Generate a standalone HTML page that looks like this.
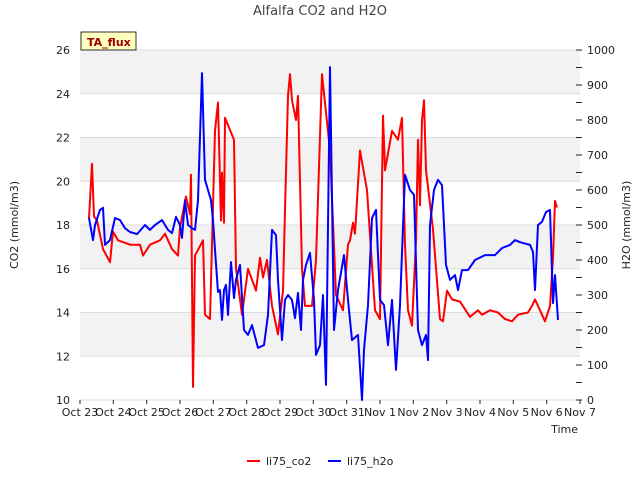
<!DOCTYPE html>
<html><head><meta charset="utf-8">
<style>
body{margin:0;background:#fff;font-family:"Liberation Sans","DejaVu Sans",sans-serif;}
svg text{font-family:"DejaVu Sans","Liberation Sans",sans-serif;}
</style></head>
<body>
<svg id="chart" width="640" height="480" viewBox="0 0 640 480">
<text x="320" y="15" text-anchor="middle" font-size="13" fill="#444">Alfalfa CO2 and H2O</text>
<g id="grid"></g>
<g id="series"></g>
<g id="axes"></g>
<g>
<rect x="81" y="32" width="55" height="18" fill="#ffffc0" stroke="#000" stroke-width="0.8"/>
<text x="87" y="46" font-size="11" font-weight="bold" fill="#a00000">TA_flux</text>
</g>
<text x="18" y="225" transform="rotate(-90 18 225)" text-anchor="middle" font-size="11" fill="#222">CO2 (mmol/m3)</text>
<text x="630" y="225" transform="rotate(-90 630 225)" text-anchor="middle" font-size="11" fill="#222">H2O (mmol/m3)</text>
<text x="578" y="433" text-anchor="end" font-size="11" fill="#222">Time</text>
<g>
<g><line x1="247" y1="461" x2="260" y2="461" stroke="#f00" stroke-width="2"/><text x="266" y="465" font-size="11" fill="#222">li75_co2</text></g>
<g><line x1="328" y1="461" x2="341" y2="461" stroke="#00f" stroke-width="2"/><text x="347" y="465" font-size="11" fill="#222">li75_h2o</text></g>
</g>
</svg>
<script>
const xTickLabels=["Oct 23","Oct 24","Oct 25","Oct 26","Oct 27","Oct 28","Oct 29","Oct 30","Oct 31","Nov 1","Nov 2","Nov 3","Nov 4","Nov 5","Nov 6","Nov 7"];
const yLeftTicks=[10,12,14,16,18,20,22,24,26];
const yRightTicks=[0,100,200,300,400,500,600,700,800,900,1000];
const co2Days=[0.27,0.36,0.42,0.51,0.69,0.9,0.99,1.14,1.5,1.8,1.89,2.1,2.4,2.55,2.76,2.94,3.0,3.18,3.3,3.33,3.39,3.45,3.69,3.75,3.9,4.05,4.14,4.23,4.26,4.32,4.35,4.62,4.68,4.86,5.04,5.28,5.4,5.49,5.61,5.76,5.94,6.09,6.15,6.24,6.3,6.36,6.48,6.54,6.66,6.75,6.96,7.08,7.26,7.5,7.68,7.89,8.04,8.1,8.19,8.25,8.4,8.61,8.85,9.0,9.09,9.15,9.36,9.54,9.66,9.75,9.84,9.96,10.08,10.14,10.2,10.26,10.32,10.38,10.59,10.8,10.89,11.01,11.16,11.4,11.7,11.94,12.06,12.3,12.54,12.75,12.96,13.14,13.44,13.56,13.65,13.8,13.95,14.1,14.19,14.25,14.31];
const co2Values=[18.3,20.8,18.4,18.2,16.9,16.3,17.7,17.3,17.1,17.1,16.6,17.1,17.3,17.6,16.9,16.6,17.9,19.3,18.5,20.3,10.6,16.6,17.3,13.9,13.7,22.3,23.6,18.2,20.4,18.1,22.9,21.9,16.0,13.9,16.0,15.0,16.5,15.6,16.4,14.3,13.0,15.0,18.7,23.9,24.9,23.7,22.8,23.9,16.0,14.3,14.3,16.4,24.9,21.4,14.8,14.1,17.1,17.3,18.1,17.6,21.4,19.6,14.1,13.7,23.0,20.5,22.3,21.9,22.9,17.1,14.1,13.4,17.3,21.9,18.9,22.8,23.7,20.5,17.8,13.7,13.6,15.0,14.6,14.5,13.8,14.1,13.9,14.1,14.0,13.7,13.6,13.9,14.0,14.3,14.6,14.1,13.6,14.3,16.5,19.1,18.8];
const h2oDays=[0.27,0.39,0.45,0.6,0.69,0.75,0.9,1.05,1.2,1.35,1.5,1.71,1.95,2.1,2.25,2.46,2.64,2.76,2.88,3.0,3.06,3.15,3.24,3.36,3.45,3.54,3.66,3.75,3.84,3.93,3.99,4.05,4.14,4.2,4.26,4.32,4.38,4.44,4.53,4.62,4.68,4.8,4.92,5.04,5.16,5.34,5.52,5.64,5.76,5.88,5.94,6.06,6.15,6.24,6.36,6.45,6.54,6.63,6.69,6.78,6.9,7.02,7.08,7.2,7.29,7.38,7.5,7.62,7.74,7.92,8.04,8.16,8.34,8.46,8.52,8.64,8.76,8.88,9.0,9.12,9.24,9.36,9.48,9.6,9.75,9.9,10.02,10.14,10.26,10.38,10.44,10.5,10.62,10.74,10.86,10.98,11.1,11.25,11.34,11.46,11.64,11.85,12.15,12.45,12.66,12.9,13.05,13.2,13.5,13.59,13.65,13.74,13.86,13.98,14.1,14.19,14.25,14.34];
const h2oValues=[520,457,500,543,549,443,457,520,514,491,480,474,500,486,500,514,486,477,523,500,463,571,500,491,486,571,934,629,600,571,514,429,309,314,229,314,329,243,394,291,343,386,200,186,214,149,157,243,486,471,343,171,286,300,286,234,306,200,343,386,420,286,129,157,300,43,951,200,314,414,286,171,186,0,143,271,520,543,286,271,157,286,86,271,643,600,586,200,157,186,114,500,600,629,614,386,343,357,314,371,371,400,414,414,434,443,457,451,443,423,314,500,509,537,543,277,357,229];

const X0=80,X1=580,Y0=50,Y1=400;
const xScale=d=>X0+d*(X1-X0)/15;
const yLeft=v=>Y1-(v-10)*(Y1-Y0)/16;
const yRight=v=>Y1-v*(Y1-Y0)/1000;
const NS="http://www.w3.org/2000/svg";
function mk(tag,attrs,parent){const e=document.createElementNS(NS,tag);for(const k in attrs)e.setAttribute(k,attrs[k]);parent.appendChild(e);return e;}
const grid=document.getElementById('grid'),series=document.getElementById('series'),axes=document.getElementById('axes');

const bg=mk('rect',{x:X0,y:Y0,width:X1-X0,height:Y1-Y0,fill:'#fff'},grid);


for(let i=0;i<yLeftTicks.length-1;i++){
  if(i%2===1){
    const b=mk('rect',{x:X0,y:yLeft(yLeftTicks[i+1]),width:X1-X0,height:yLeft(yLeftTicks[i])-yLeft(yLeftTicks[i+1]),fill:'#f2f2f2'},grid);
    
    
  }
}
yLeftTicks.forEach(v=>{
  const l=mk('line',{x1:X0,x2:X1,y1:yLeft(v),y2:yLeft(v),stroke:'#dcdcdc','stroke-width':1},grid);
  
  
  const t=mk('text',{x:X0-10,y:yLeft(v)+4,'text-anchor':'end','font-size':11,fill:'#222'},axes);
  t.textContent=v;
  
  
});
yRightTicks.forEach(v=>{
  const t=mk('text',{x:X1+7,y:yRight(v)+4,'font-size':11,fill:'#222'},axes);
  t.textContent=v;
  
  
});
for(let v=0;v<=1000;v+=50){
  const m=mk('line',{x1:X1-4,x2:X1+2,y1:yRight(v),y2:yRight(v),stroke:'#222'},axes);
  
  
}
xTickLabels.forEach((s,i)=>{
  const m=mk('line',{x1:xScale(i),x2:xScale(i),y1:Y1,y2:Y1+4,stroke:'#222'},axes);
  
  
  const t=mk('text',{x:xScale(i),y:Y1+16,'text-anchor':'middle','font-size':11,fill:'#222'},axes);
  t.textContent=s;
  
  
});
function path(days,vals,ys){return days.map((d,i)=>(i?'L':'M')+xScale(d).toFixed(1)+','+ys(vals[i]).toFixed(1)).join('');}
const co2=mk('path',{d:path(co2Days,co2Values,yLeft),fill:'none',stroke:'#f00','stroke-width':2,'stroke-linejoin':'round'},series);


const h2o=mk('path',{d:path(h2oDays,h2oValues,yRight),fill:'none',stroke:'#00f','stroke-width':2,'stroke-linejoin':'round'},series);


</script>
</body></html>
